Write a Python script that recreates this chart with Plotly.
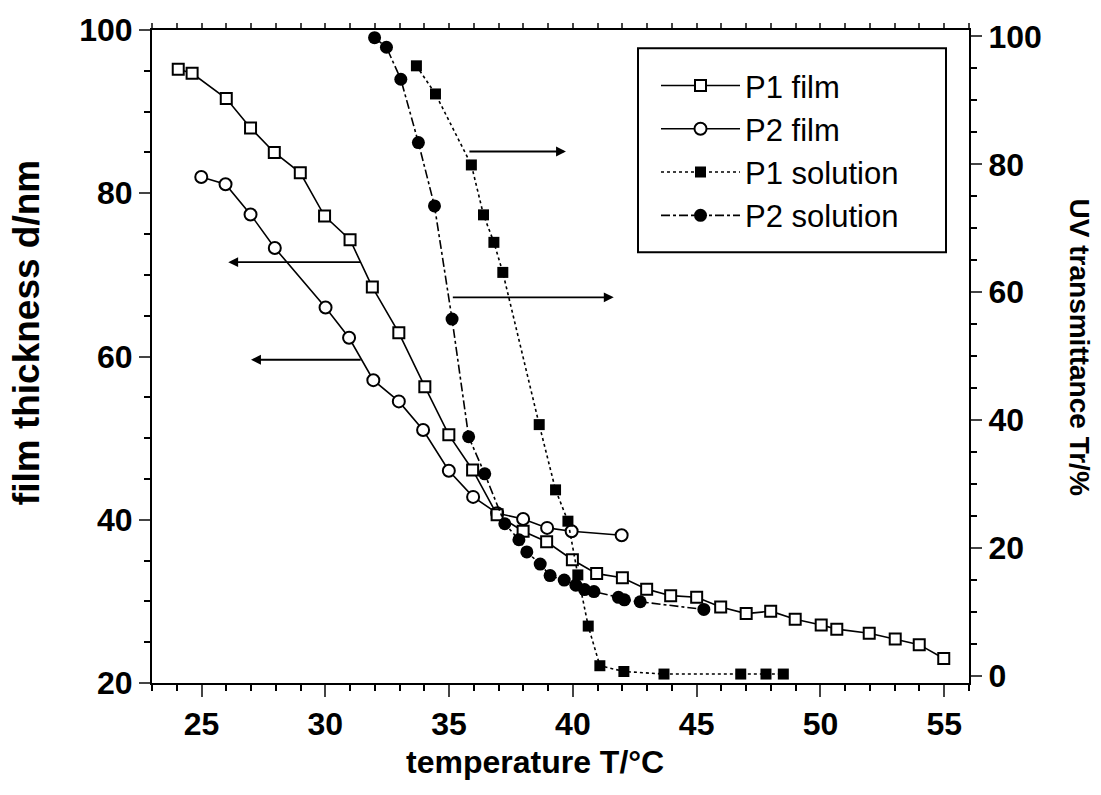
import plotly.graph_objects as go

# ---- data ----
p1_film_T = [24.06, 24.62, 26.0, 26.98, 27.94, 28.99, 29.97, 31.0, 31.9, 32.97, 34.02, 34.99,
             35.95, 36.94, 37.99, 38.94, 39.98, 40.96, 42.0, 42.98, 43.95, 45.0, 45.97, 47.0,
             47.99, 48.98, 50.03, 50.66, 51.97, 53.02, 53.99, 54.98]
p1_film_d = [95.2, 94.7, 91.6, 88.0, 85.0, 82.5, 77.2, 74.3, 68.5, 62.9, 56.3, 50.4,
             46.1, 40.6, 38.6, 37.3, 35.1, 33.4, 32.9, 31.5, 30.7, 30.5, 29.3, 28.5,
             28.8, 27.8, 27.1, 26.6, 26.1, 25.4, 24.7, 23.0]

p2_film_T = [24.99, 25.97, 26.98, 27.96, 30.01, 30.96, 31.94, 32.97, 33.95, 34.99, 35.97,
             36.94, 37.99, 38.96, 39.95, 41.97]
p2_film_d = [82.0, 81.1, 77.4, 73.3, 66.0, 62.3, 57.1, 54.5, 51.0, 46.0, 42.8,
             40.8, 40.1, 39.0, 38.6, 38.1]

p1_sol_T = [33.68, 34.45, 35.9, 36.39, 36.81, 37.17, 38.64, 39.3, 39.8, 40.2, 40.62, 41.09,
            42.06, 43.68, 46.78, 47.8, 48.5]
p1_sol_Tr = [95.4, 91.0, 79.9, 72.1, 67.8, 63.1, 39.3, 29.1, 24.2, 15.8, 7.8, 1.6,
             0.7, 0.3, 0.3, 0.3, 0.3]

p2_sol_T = [31.99, 32.47, 33.05, 33.76, 34.41, 35.12, 35.79, 36.44, 37.25, 37.82, 38.14,
            38.68, 39.08, 39.65, 40.12, 40.47, 40.85, 41.84, 42.08, 42.72, 45.29]
p2_sol_Tr = [99.8, 98.3, 93.3, 83.4, 73.5, 55.8, 37.4, 31.6, 23.8, 21.3, 19.4,
             17.5, 15.7, 15.0, 14.2, 13.5, 13.2, 12.3, 11.9, 11.6, 10.4]

series_names = ["P1 film", "P2 film", "P1 solution", "P2 solution"]

# arrows: (tail_T, tip_T, level, axis)
arrows = [
    (31.49, 26.08, 71.56, "y"),
    (31.49, 27.0, 59.6, "y"),
    (35.76, 39.72, 82.0, "y2"),
    (35.09, 41.65, 59.2, "y2"),
]

FONT = "Liberation Sans, Arial, sans-serif"
BLACK = "#000000"

# plot-area pixel frame (for converting reference pixel positions of text/frames)
L, R, T, B = 152, 969, 25, 683
def px(xp):
    return (xp - L) / (R - L)
def py(yp):
    return (B - yp) / (B - T)

fig = go.Figure()

fig.add_trace(go.Scatter(
    x=p1_sol_T, y=p1_sol_Tr, yaxis="y2", name=series_names[2], mode="lines+markers",
    line=dict(color=BLACK, width=1.6, dash="dot"),
    marker=dict(symbol="square", size=11, color=BLACK, line=dict(width=0)),
    legendrank=3))
fig.add_trace(go.Scatter(
    x=p2_sol_T, y=p2_sol_Tr, yaxis="y2", name=series_names[3], mode="lines+markers",
    line=dict(color=BLACK, width=1.6, dash="dashdot"),
    marker=dict(symbol="circle", size=13, color=BLACK, line=dict(width=0)),
    legendrank=4))
fig.add_trace(go.Scatter(
    x=p2_film_T, y=p2_film_d, name=series_names[1], mode="lines+markers",
    line=dict(color=BLACK, width=1.6),
    marker=dict(symbol="circle", size=12, color="white", line=dict(width=2, color=BLACK)),
    legendrank=2))
fig.add_trace(go.Scatter(
    x=p1_film_T, y=p1_film_d, name=series_names[0], mode="lines+markers",
    line=dict(color=BLACK, width=1.6),
    marker=dict(symbol="square", size=11, color="white", line=dict(width=2, color=BLACK)),
    legendrank=1))

# top mirror axis with small ticks
fig.add_trace(go.Scatter(x=[23, 56], y=[None, None], xaxis="x2", showlegend=False,
                         hoverinfo="skip"))

annotations = []
for tail, tip, lvl, ax_ in arrows:
    annotations.append(dict(
        x=tip, y=lvl, ax=tail, ay=lvl, xref="x", yref=ax_, axref="x", ayref=ax_,
        text="", showarrow=True, arrowhead=2, arrowsize=1.1, arrowwidth=1.8,
        arrowcolor=BLACK))

annotations += [
    dict(text="temperature T/°C", xref="paper", yref="paper", x=px(535), y=py(763),
         showarrow=False, xanchor="center", yanchor="middle",
         font=dict(family=FONT, size=32, color=BLACK, weight="bold")),
    dict(text="film thickness d/nm", xref="paper", yref="paper", x=px(26.5),
         y=py(330), showarrow=False, textangle=-90, xanchor="center", yanchor="middle",
         font=dict(family=FONT, size=37, color=BLACK, weight="bold")),
    dict(text="UV transmittance Tr/%", xref="paper", yref="paper", x=px(1079),
         y=py(344), showarrow=False, textangle=90, xanchor="center", yanchor="middle",
         font=dict(family=FONT, size=28, color=BLACK, weight="bold")),
]

tickfont = dict(family=FONT, size=32, color=BLACK, weight="bold")

fig.update_layout(
    width=1101, height=795,
    margin=dict(l=L, r=1101 - R, t=T, b=795 - B),
    paper_bgcolor="white", plot_bgcolor="white",
    showlegend=True,
    legend=dict(x=px(656), y=py(54), xanchor="left", yanchor="top",
                borderwidth=0, bgcolor="rgba(0,0,0,0)",
                font=dict(family=FONT, size=31, color=BLACK),
                itemwidth=79, traceorder="normal"),
    shapes=[dict(type="rect", xref="paper", yref="paper", x0=px(638), x1=px(946),
                 y0=py(249), y1=py(43.3), line=dict(color=BLACK, width=2),
                 fillcolor="rgba(0,0,0,0)", layer="above")],
    xaxis=dict(range=[23, 56], tick0=25, dtick=5, ticks="outside", ticklen=12, tickwidth=2,
               showline=True, linewidth=2, linecolor=BLACK, showgrid=False, zeroline=False,
               tickfont=tickfont,
               minor=dict(dtick=1, tick0=23, ticks="outside", ticklen=6, tickwidth=1.5,
                          tickcolor=BLACK, showgrid=False)),
    xaxis2=dict(range=[23, 56], overlaying="x", side="top", anchor="y", tick0=23, dtick=1,
                ticks="outside", ticklen=5, tickwidth=1.5, showticklabels=False,
                showline=True, linewidth=2, linecolor=BLACK, showgrid=False, zeroline=False),
    yaxis=dict(range=[20, 100], tick0=20, dtick=20, ticks="outside", ticklen=11, tickwidth=2,
               showline=True, linewidth=2, linecolor=BLACK, showgrid=False, zeroline=False,
               tickfont=tickfont,
               minor=dict(dtick=5, tick0=20, ticks="outside", ticklen=6, tickwidth=1.5,
                          tickcolor=BLACK, showgrid=False)),
    yaxis2=dict(range=[-1.1, 101], overlaying="y", side="right", anchor="x", tick0=0,
                dtick=20, ticks="outside", ticklen=11, tickwidth=2, showline=True,
                linewidth=2, linecolor=BLACK, showgrid=False, zeroline=False,
                tickfont=tickfont,
                minor=dict(dtick=5, tick0=0, ticks="outside", ticklen=6, tickwidth=1.5,
                           tickcolor=BLACK, showgrid=False)),
    annotations=annotations,
)

fig.write_html("out.html")
